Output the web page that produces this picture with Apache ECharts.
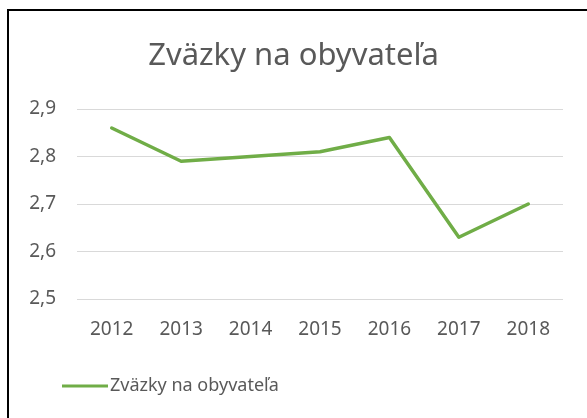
<!DOCTYPE html>
<html>
<head>
<meta charset="utf-8">
<title>Zväzky na obyvateľa</title>
<script src="https://cdn.jsdelivr.net/npm/echarts@6/dist/echarts.min.js"></script>
<style>
  body { margin: 0; background: #fff; }
  #main { width: 587px; height: 418px; position: absolute; left: 0; top: 0; }
  #frame { position: absolute; left: 7px; top: 9px; width: 600px; height: 420px;
           border-left: 2px solid #000; border-top: 2px solid #000; pointer-events: none; }
</style>
</head>
<body>
<div id="main"></div>
<div id="frame"></div>
<script>
var years = ['2012', '2013', '2014', '2015', '2016', '2017', '2018'];
var zvazky = [2.86, 2.79, 2.80, 2.81, 2.84, 2.63, 2.70];
var seriesName = 'Zväzky na obyvateľa';

var font = 'Noto Sans';
var chart = echarts.init(document.getElementById('main'));
chart.setOption({
  animation: false,
  title: {
    text: seriesName,
    left: 'center',
    top: 36,
    textStyle: { fontFamily: font, fontSize: 31, fontWeight: 'normal', color: '#595959' }
  },
  legend: {
    data: [seriesName],
    left: 57,
    top: 372,
    itemWidth: 46,
    itemHeight: 14,
    itemGap: 4,
    icon: 'path://M0,5.5H46V8.5H0Z',
    textStyle: { fontFamily: font, fontSize: 18, color: '#595959', padding: [0, 0, 0, -3] }
  },
  grid: { left: 77, right: 24, top: 109, bottom: 119, containLabel: false },
  xAxis: {
    type: 'category',
    data: years,
    boundaryGap: true,
    axisLine: { show: false },
    axisTick: { show: false },
    axisLabel: { fontFamily: font, fontSize: 19, color: '#595959', margin: 21 }
  },
  yAxis: {
    type: 'value',
    min: 2.5,
    max: 2.9,
    interval: 0.1,
    axisLine: { show: false },
    axisTick: { show: false },
    splitLine: { lineStyle: { color: '#d9d9d9', width: 1 } },
    axisLabel: {
      fontFamily: font, fontSize: 19, color: '#595959', margin: 21,
      formatter: function (v) { return v.toFixed(1).replace('.', ','); }
    }
  },
  series: [{
    name: seriesName,
    type: 'line',
    data: zvazky,
    showSymbol: false,
    symbol: 'none',
    lineStyle: { color: '#70ad47', width: 3.5, cap: 'round', join: 'round' },
    itemStyle: { color: '#70ad47' }
  }]
});
</script>
</body>
</html>
